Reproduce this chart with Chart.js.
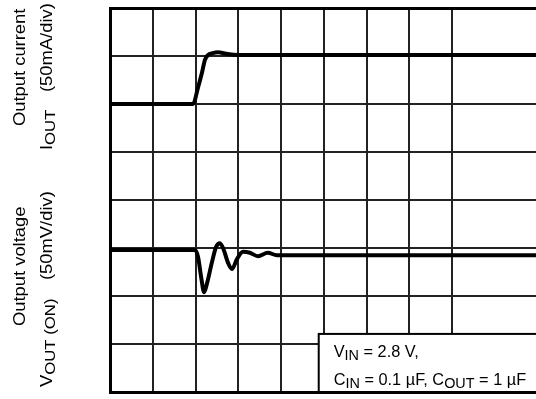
<!DOCTYPE html>
<html>
<head>
<meta charset="utf-8">
<script src="https://cdn.jsdelivr.net/npm/chart.js@4.4.0/dist/chart.umd.min.js"></script>
<style>
  html, body { margin: 0; padding: 0; background: #fff; }
  canvas { display: block; }
</style>
</head>
<body>
<canvas id="scope" width="536" height="399"></canvas>
<script>
// Screen is 10 x 8 divisions; values are in divisions (time across, level up)
const divX = 10;
const divY = 8;
const xVisibleMax = 9.96; // right edge of the graticule is cut off

// Output current trace (IOUT, 50mA/div)
const currentTime  = [0, 1.94, 2.06, 2.15, 2.22, 2.29, 2.40, 2.52, 2.75, 2.99, 9.96];
const currentLevel = [6.0, 6.0, 6.35, 6.65, 6.92, 7.02, 7.06, 7.08, 7.04, 7.02, 7.02];

// Output voltage trace (VOUT(ON), 50mV/div)
const voltageTime  = [0, 1.99, 2.06, 2.13, 2.20, 2.27, 2.38, 2.48, 2.57, 2.66, 2.76, 2.85, 2.97, 3.11, 3.27, 3.46, 3.69, 3.90, 9.96];
const voltageLevel = [2.96, 2.96, 2.81, 2.40, 2.08, 2.27, 2.69, 3.02, 3.10, 2.96, 2.69, 2.56, 2.77, 2.92, 2.90, 2.83, 2.90, 2.85, 2.85];

// Labels: each run is [text, isSubscript]
const currentLabel1 = [['Output current', false]];
const currentLabel2 = [['I', false], ['OUT', true]];
const currentUnit   = [['(50mA/div)', false]];
const voltageLabel1 = [['Output voltage', false]];
const voltageLabel2 = [['V', false], ['OUT (ON)', true]];
const voltageUnit   = [['(50mV/div)', false]];
const noteLine1 = [['V', false], ['IN', true], [' = 2.8 V,', false]];
const noteLine2 = [['C', false], ['IN', true], [' = 0.1 \u00b5F, C', false], ['OUT', true], [' = 1 \u00b5F', false]];

const FONT = '"Liberation Sans", Arial, sans-serif';

function toPoints(xs, ys) {
    return xs.map((x, i) => ({ x: x, y: ys[i] }));
}

// draw a row of runs starting at (0,0); text can be stretched along its run
function drawRuns(ctx, runs, size, subSize, stretch) {
    ctx.save();
    ctx.scale(stretch, 1);
    let x = 0;
    runs.forEach(([text, sub]) => {
        ctx.font = (sub ? subSize : size) + 'px ' + FONT;
        ctx.fillText(text, x, sub ? 3 : 0);
        x += ctx.measureText(text).width;
    });
    ctx.restore();
}

function drawVertical(ctx, runs, x, y) {
    ctx.save();
    ctx.translate(x, y);
    ctx.rotate(-Math.PI / 2);
    drawRuns(ctx, runs, 17, 15.5, 1.08);
    ctx.restore();
}

const labelsPlugin = {
    id: 'scopeLabels',
    afterDraw(chart) {
        const ctx = chart.ctx;
        const xs = chart.scales.x;
        const ys = chart.scales.y;
        ctx.save();
        ctx.fillStyle = '#000';
        ctx.textBaseline = 'alphabetic';
        ctx.textAlign = 'left';

        drawVertical(ctx, currentLabel1, 24.5, 126);
        drawVertical(ctx, currentLabel2, 51.5, 150);
        drawVertical(ctx, currentUnit, 51.5, 92);
        drawVertical(ctx, voltageLabel1, 24.5, 326);
        drawVertical(ctx, voltageLabel2, 51.5, 387);
        drawVertical(ctx, voltageUnit, 51.5, 280);

        // conditions box in the lower right corner
        const bx = xs.getPixelForValue(4.88);
        const by = ys.getPixelForValue(1.21);
        const bBottom = ys.getPixelForValue(0);
        ctx.fillStyle = '#fff';
        ctx.fillRect(bx, by, chart.width - bx + 5, bBottom - by);
        ctx.strokeStyle = '#000';
        ctx.lineWidth = 2;
        ctx.strokeRect(bx, by, chart.width - bx + 5, bBottom - by);

        ctx.fillStyle = '#000';
        ctx.save();
        ctx.translate(bx + 15, by + 23);
        drawRuns(ctx, noteLine1, 17, 15, 0.96);
        ctx.restore();
        ctx.save();
        ctx.translate(bx + 15, by + 51);
        drawRuns(ctx, noteLine2, 17, 15, 0.96);
        ctx.restore();
        ctx.restore();
    }
};

function gridWidth(c) {
    const v = c.tick.value;
    return (v === 0 || v === divY) ? 3 : 2;
}

new Chart(document.getElementById('scope'), {
    type: 'line',
    data: {
        datasets: [{
            label: 'IOUT',
            data: toPoints(currentTime, currentLevel),
            borderColor: '#000',
            borderWidth: 4,
            pointRadius: 0,
            cubicInterpolationMode: 'monotone',
            fill: false
        }, {
            label: 'VOUT',
            data: toPoints(voltageTime, voltageLevel),
            borderColor: '#000',
            borderWidth: 4,
            pointRadius: 0,
            cubicInterpolationMode: 'monotone',
            fill: false
        }]
    },
    options: {
        responsive: false,
        animation: false,
        layout: { padding: { left: 110, top: 8, right: 0, bottom: 7 } },
        plugins: {
            legend: { display: false },
            tooltip: { enabled: false }
        },
        scales: {
            x: {
                type: 'linear',
                min: 0,
                max: xVisibleMax,
                ticks: { display: false, stepSize: 1 },
                grid: {
                    drawTicks: false,
                    color: c => Number.isInteger(c.tick.value) ? '#222' : 'rgba(0,0,0,0)',
                    lineWidth: c => c.tick.value === 0 ? 3 : 2
                },
                border: { display: true, color: '#000', width: 3 }
            },
            y: {
                type: 'linear',
                min: 0,
                max: divY,
                ticks: { display: false, stepSize: 1 },
                grid: {
                    drawTicks: false,
                    color: c => (c.tick.value === 0 || c.tick.value === divY) ? '#000' : '#222',
                    lineWidth: gridWidth
                },
                border: { display: true, color: '#000', width: 3 }
            }
        }
    },
    plugins: [labelsPlugin]
});
</script>
</body>
</html>
